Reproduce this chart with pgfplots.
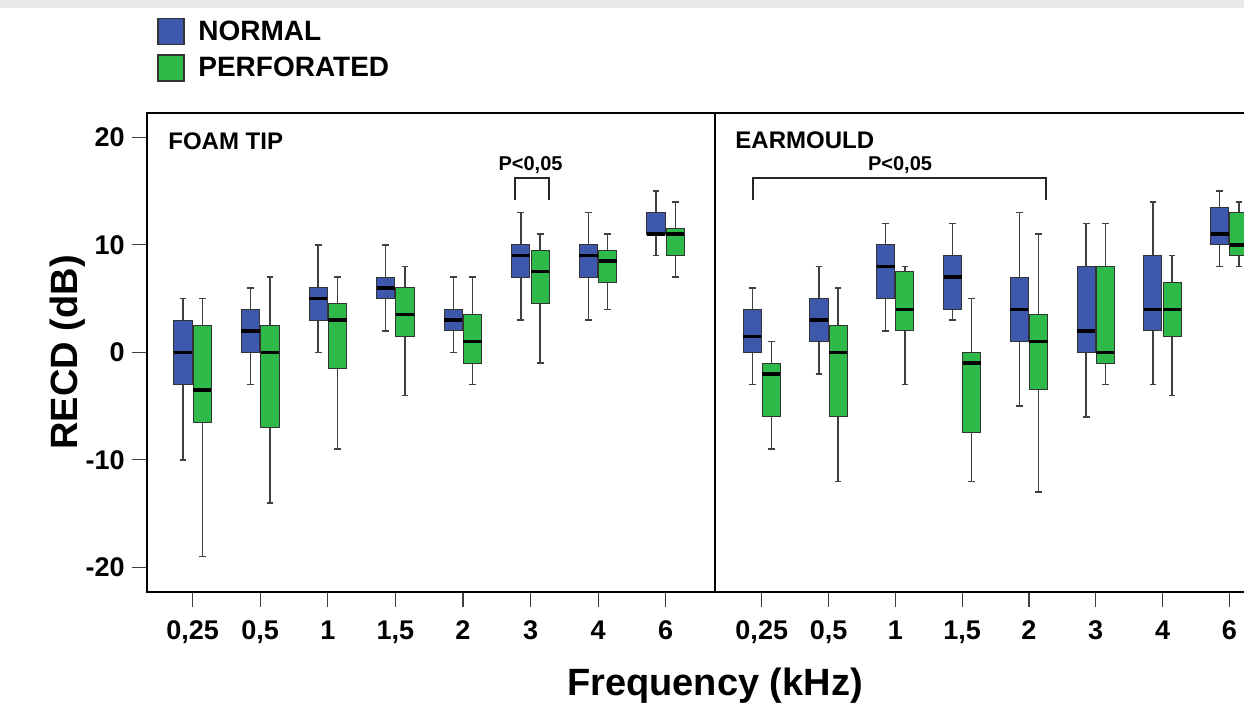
\documentclass[border=0pt]{standalone}
\usepackage{fontspec}
\setmainfont{Liberation Sans}
\usepackage{pgfplots}
\pgfplotsset{compat=1.18}
\usepgfplotslibrary{statistics}

\definecolor{nblue}{RGB}{62,88,174}
\definecolor{pgreen}{RGB}{46,186,72}

% \bx{position}{lower whisker}{lower quartile}{median}{upper quartile}{upper whisker}{style}
\newcommand\bx[7]{\addplot[#7, boxplot prepared={draw position=#1,
  lower whisker=#2, lower quartile=#3, median=#4,
  upper quartile=#5, upper whisker=#6}] coordinates {};}

\pgfplotsset{
  panel/.style={
    anchor=south west, scale only axis,
    height=239.65pt,
    ymin=-22.3, ymax=22.3,
    xtick={0,...,7},
    xticklabels={{0,25},{0,5},1,{1,5},2,3,4,6},
    ytick={-20,-10,0,10,20},
    yticklabels={-20,-10,0,10,20},
    tick align=outside, xtick pos=left, ytick pos=left,
    major tick length=7.5pt,
    tick style={black!75, line width=0.6pt},
    ticklabel style={font=\bfseries\fontsize{13.5}{14}\selectfont},
    x tick label style={yshift=-3.5pt},
    axis line style={line width=1.1pt},
    boxplot/draw direction=y,
    boxplot/box extend=0.27,
    boxplot/whisker extend=0.1,
    boxplot/every median/.style={draw=black, line width=1.7pt},
    boxplot/every whisker/.style={draw=black!75, line width=0.7pt},
  },
  nbox/.style={fill=nblue, draw=black!80, line width=0.5pt},
  pbox/.style={fill=pgreen, draw=black!80, line width=0.5pt},
}

\begin{document}
\begin{tikzpicture}
\path[use as bounding box] (0pt,0pt) rectangle (622pt,351.5pt);
\fill[black!9] (0pt,347.25pt) rectangle (622pt,351.5pt);

\begin{axis}[panel, name=foam,
  at={(73.35pt,55.5pt)}, width=284.15pt,
  xmin=-0.68, xmax=7.73,
  xlabel={Frequency (kHz)},
  ylabel={RECD (dB)},
  label style={font=\bfseries\fontsize{19}{20}\selectfont},
  x label style={at={(axis description cs:1.0,-0.196)}, anchor=center},
  y label style={at={(axis description cs:-0.1385,0.5)}, anchor=center},
  legend style={draw=none, fill=none, anchor=north west,
    at={(0.018,1.198)}, inner sep=0pt, row sep=4.5pt,
    nodes={inner sep=0pt},
    font=\bfseries\fontsize{14}{14}\selectfont},
  legend cell align=left,
]
\addlegendimage{legend image code/.code={\filldraw[fill=nblue, draw=black!80, line width=0.6pt] (0pt,-6.5pt) rectangle (13pt,6.5pt); \path (20pt,0pt);}}
\addlegendentry{NORMAL}
\addlegendimage{legend image code/.code={\filldraw[fill=pgreen, draw=black!80, line width=0.6pt] (0pt,-6.5pt) rectangle (13pt,6.5pt); \path (20pt,0pt);}}
\addlegendentry{PERFORATED}

% FOAM TIP: normal
\bx{-0.143}{-10}{-3}{0}{3}{5}{nbox}
\bx{0.857}{-3}{0}{2}{4}{6}{nbox}
\bx{1.857}{0}{3}{5}{6}{10}{nbox}
\bx{2.857}{2}{5}{6}{7}{10}{nbox}
\bx{3.857}{0}{2}{3}{4}{7}{nbox}
\bx{4.857}{3}{7}{9}{10}{13}{nbox}
\bx{5.857}{3}{7}{9}{10}{13}{nbox}
\bx{6.857}{9}{11}{11}{13}{15}{nbox}
% FOAM TIP: perforated
\bx{0.143}{-19}{-6.5}{-3.5}{2.5}{5}{pbox}
\bx{1.143}{-14}{-7}{0}{2.5}{7}{pbox}
\bx{2.143}{-9}{-1.5}{3}{4.5}{7}{pbox}
\bx{3.143}{-4}{1.5}{3.5}{6}{8}{pbox}
\bx{4.143}{-3}{-1}{1}{3.5}{7}{pbox}
\bx{5.143}{-1}{4.5}{7.5}{9.5}{11}{pbox}
\bx{6.143}{4}{6.5}{8.5}{9.5}{11}{pbox}
\bx{7.143}{7}{9}{11}{11.5}{14}{pbox}

\node[anchor=west, inner sep=0pt, font=\bfseries\fontsize{12}{12}\selectfont]
  at (axis cs:-0.365,19.66) {FOAM TIP};
\draw[line width=1pt, black!85] (axis cs:4.77,14.2) -- (axis cs:4.77,16.2)
  -- (axis cs:5.28,16.2) -- (axis cs:5.28,14.2);
\node[font=\bfseries\fontsize{10}{10}\selectfont] at (axis cs:5.0,17.4) {P<0,05};
\end{axis}

\begin{axis}[panel, name=ear,
  at={(357.5pt,55.5pt)}, width=264.5pt,
  xmin=-0.70, xmax=7.22,
  axis x line=box, axis y line=none,
  ytick=\empty,
]
% EARMOULD: normal
\bx{-0.143}{-3}{0}{1.5}{4}{6}{nbox}
\bx{0.857}{-2}{1}{3}{5}{8}{nbox}
\bx{1.857}{2}{5}{8}{10}{12}{nbox}
\bx{2.857}{3}{4}{7}{9}{12}{nbox}
\bx{3.857}{-5}{1}{4}{7}{13}{nbox}
\bx{4.857}{-6}{0}{2}{8}{12}{nbox}
\bx{5.857}{-3}{2}{4}{9}{14}{nbox}
\bx{6.857}{8}{10}{11}{13.5}{15}{nbox}
% EARMOULD: perforated
\bx{0.143}{-9}{-6}{-2}{-1}{1}{pbox}
\bx{1.143}{-12}{-6}{0}{2.5}{6}{pbox}
\bx{2.143}{-3}{2}{4}{7.5}{8}{pbox}
\bx{3.143}{-12}{-7.5}{-1}{0}{5}{pbox}
\bx{4.143}{-13}{-3.5}{1}{3.5}{11}{pbox}
\bx{5.143}{-3}{-1}{0}{8}{12}{pbox}
\bx{6.143}{-4}{1.5}{4}{6.5}{9}{pbox}
\bx{7.143}{8}{9}{10}{13}{14}{pbox}

\node[anchor=west, inner sep=0pt, font=\bfseries\fontsize{12}{12}\selectfont]
  at (axis cs:-0.40,19.75) {EARMOULD};
\draw[line width=1pt, black!85] (axis cs:-0.136,14.2) -- (axis cs:-0.136,16.2)
  -- (axis cs:4.255,16.2) -- (axis cs:4.255,14.2);
\node[font=\bfseries\fontsize{10}{10}\selectfont] at (axis cs:2.07,17.4) {P<0,05};
\end{axis}
\end{tikzpicture}
\end{document}
